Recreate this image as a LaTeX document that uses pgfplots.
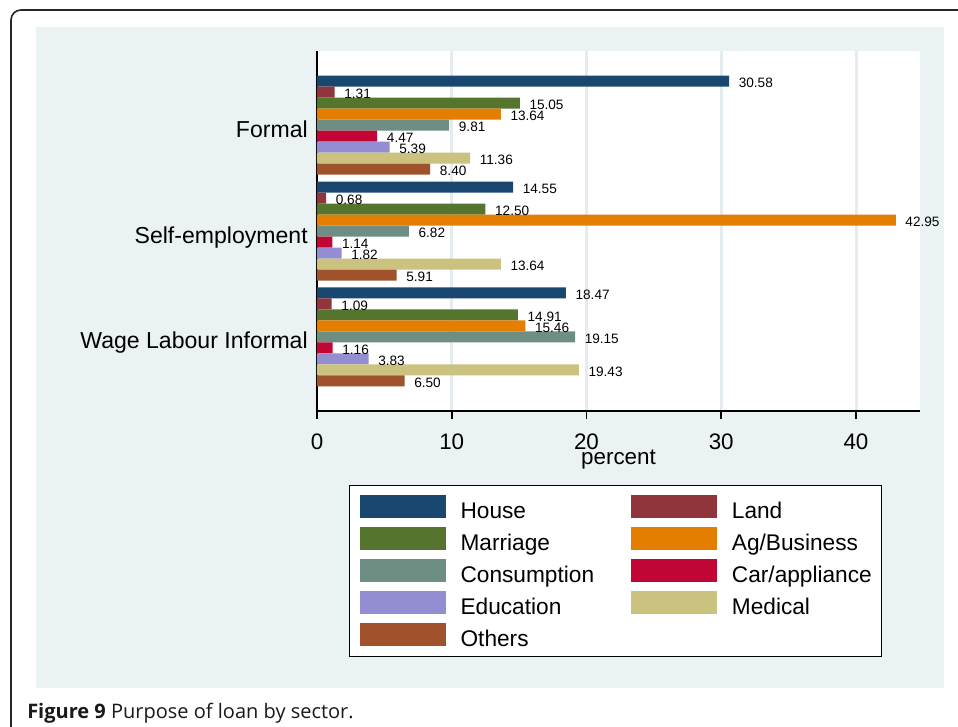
\documentclass[border=0pt]{standalone}
\usepackage{pgfplots}
\usepackage{pgfplotstable}
\pgfplotsset{compat=1.18}
\usepackage{fontspec}
\setmainfont{Liberation Sans}
\newfontfamily\capfont{Open Sans}

% Stata s2color palette
\definecolor{sNavy}{RGB}{26,71,111}
\definecolor{sMaroon}{RGB}{144,53,59}
\definecolor{sForest}{RGB}{85,117,47}
\definecolor{sOrange}{RGB}{227,126,0}
\definecolor{sTeal}{RGB}{110,142,132}
\definecolor{sCran}{RGB}{193,5,52}
\definecolor{sLav}{RGB}{147,141,210}
\definecolor{sKhaki}{RGB}{202,194,126}
\definecolor{sSienna}{RGB}{160,82,45}
\definecolor{panelc}{RGB}{234,242,243}
\definecolor{gridc}{RGB}{228,236,239}

% pos: 3 = Formal, 2 = Self-employment, 1 = Wage Labour Informal
\pgfplotstableread{
pos House Land Marriage Ag Cons Car Edu Med Oth
3 30.58 1.31 15.05 13.64 9.81 4.47 5.39 11.36 8.40
2 14.55 0.68 12.50 42.95 6.82 1.14 1.82 13.64 5.91
1 18.47 1.09 14.91 15.46 19.15 1.16 3.83 19.43 6.50
}\loans

\pgfplotsset{barleg/.style={legend image code/.code={\fill[##1] (0pt,-8.625pt) rectangle (64.5pt,8.625pt);}}}

\begin{document}
\begin{tikzpicture}
\begin{scope}[x=0.75pt,y=-0.75pt]
  \fill[panelc] (36,27) rectangle (944,688);
\end{scope}

\begin{axis}[
  at={(237.75pt,-308.25pt)}, anchor=south west,
  scale only axis, width=452.25pt, height=270pt,
  xbar, bar width=8.25pt,
  xmin=0, xmax=44.75, ymin=0.3, ymax=3.7,
  axis lines=left, axis line style={-, line width=1.3pt, black},
  axis background/.style={fill=white},
  xtick={0,10,20,30,40}, ytick={1,2,3},
  yticklabels={Wage Labour Informal,Self-employment,Formal},
  tick align=outside, major tick length=6pt,
  xtick style={line width=1.3pt, black},
  ytick style={draw=none},
  xmajorgrids, grid style={line width=2.25pt, gridc},
  /pgf/number format/assume math mode=true,
  xticklabel style={font=\fontsize{16.8}{19}\selectfont, anchor=base, inner sep=0pt, yshift=-22.7pt},
  yticklabel style={font=\fontsize{17.3}{20}\selectfont, anchor=base east, inner sep=0pt, xshift=-0.75pt, yshift=-9pt},
  xlabel={percent},
  xlabel style={font=\fontsize{16.8}{19}\selectfont, at={(axis description cs:0.5,0)}, anchor=base, inner sep=0pt, yshift=-39.75pt},
  nodes near coords={\pgfmathprintnumber[fixed,fixed zerofill,precision=2]{\pgfplotspointmeta}},
  point meta=x,
  every node near coord/.append style={font=\fontsize{10.2}{12}\selectfont, text=black, anchor=west, inner sep=0pt, xshift=7.1pt, yshift=-1.1pt},
  clip=false,
  legend columns=2, legend cell align=left,
  legend style={at={(0.0547,-0.2056)}, anchor=north west, draw=black, line width=0.75pt, fill=white,
    outer sep=0pt, inner xsep=7.2pt, inner ysep=7.5pt, row sep=6.75pt,
    font=\fontsize{17}{20}\selectfont,
    nodes={inner sep=0pt, text height=17.25pt, text depth=0pt},
    /tikz/every odd column/.append style={column sep=11.25pt},
    /tikz/every even column/.append style={column sep=27.6pt}},
]
\addplot[fill=sNavy, draw=none, bar shift=33pt, barleg] table[x=House, y=pos]{\loans};
\addlegendentry{House}
\addplot[fill=sMaroon, draw=none, bar shift=24.75pt, barleg] table[x=Land, y=pos]{\loans};
\addlegendentry{Land}
\addplot[fill=sForest, draw=none, bar shift=16.5pt, barleg] table[x=Marriage, y=pos]{\loans};
\addlegendentry{Marriage}
\addplot[fill=sOrange, draw=none, bar shift=8.25pt, barleg] table[x=Ag, y=pos]{\loans};
\addlegendentry{Ag/Business}
\addplot[fill=sTeal, draw=none, bar shift=0pt, barleg] table[x=Cons, y=pos]{\loans};
\addlegendentry{Consumption}
\addplot[fill=sCran, draw=none, bar shift=-8.25pt, barleg] table[x=Car, y=pos]{\loans};
\addlegendentry{Car/appliance}
\addplot[fill=sLav, draw=none, bar shift=-16.5pt, barleg] table[x=Edu, y=pos]{\loans};
\addlegendentry{Education}
\addplot[fill=sKhaki, draw=none, bar shift=-24.75pt, barleg] table[x=Med, y=pos]{\loans};
\addlegendentry{Medical}
\addplot[fill=sSienna, draw=none, bar shift=-33pt, barleg] table[x=Oth, y=pos]{\loans};
\addlegendentry{Others}
\end{axis}

\begin{scope}[x=0.75pt,y=-0.75pt]
  \draw[line width=1.2pt, black!85] (11,740) -- (11,20) arc[start angle=180, end angle=270, radius=10] -- (970,10);
  \node[anchor=base west, inner sep=0pt, font=\capfont\fontsize{15}{17}\selectfont, text=black!90] at (27,718)
    {\textbf{Figure 9} Purpose of loan by sector.};
\end{scope}

\pgfresetboundingbox
\path[use as bounding box] (0,0) rectangle (718.5pt,-545.25pt);
\end{tikzpicture}
\end{document}
